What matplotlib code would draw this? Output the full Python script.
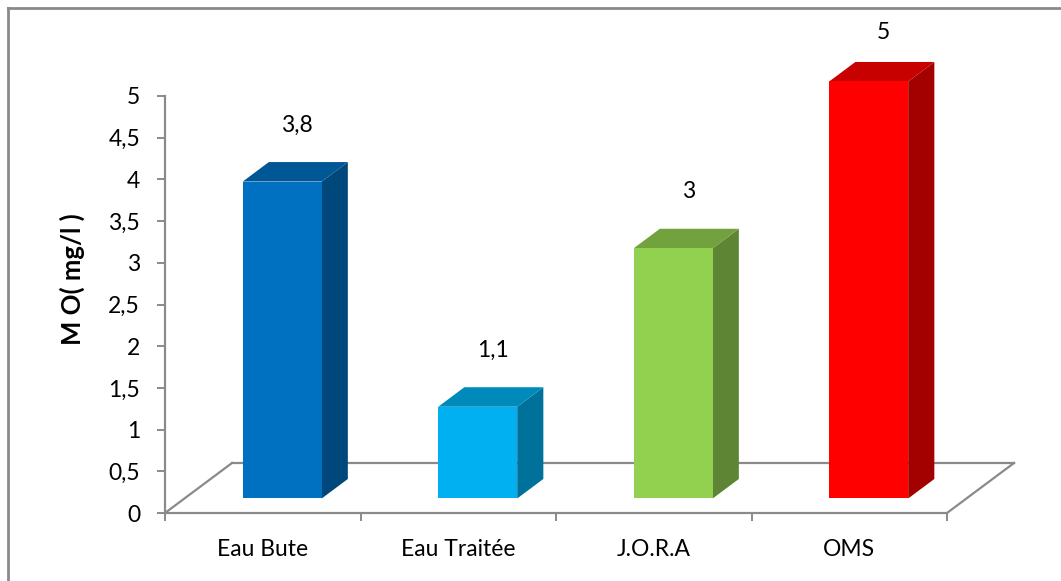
import matplotlib
matplotlib.use('Agg')
import matplotlib.pyplot as plt
from matplotlib.patches import Polygon
from matplotlib.lines import Line2D
from matplotlib.ticker import MultipleLocator, FixedLocator, FuncFormatter
from matplotlib.colors import to_rgb

# data
categories = ['Eau Bute', 'Eau Traitée', 'J.O.R.A', 'OMS']
values = [3.8, 1.1, 3.0, 5.0]
labels = ['3,8', '1,1', '3', '5']
colors = ['#0070C0', '#00B0F0', '#92D050', '#FF0000']
y_label = 'M O( mg/l )'

plt.rcParams['font.family'] = ['Lato', 'DejaVu Sans']

GRAY = '#8a8a8a'
W, H = 1061, 581
FS = 16.5

# depth of the floor (x in category units, y in value units)
FLOOR_DX, FLOOR_DY = 0.343, 0.60
BAR_FRONT, BAR_BACK = 0.29, 0.68      # bar position inside the floor depth
BAR_W = 0.404


def shade(c, f):
    r, g, b = to_rgb(c)
    return (r * f, g * f, b * f)


fig = plt.figure(figsize=(W / 100, H / 100), dpi=100)
ax = fig.add_axes([165 / W, (H - 513) / H, 782 / W, 417 / H])
ax.set_xlim(0, 4)
ax.set_ylim(0, 5)
ax.patch.set_alpha(0)

for s in ['top', 'right']:
    ax.spines[s].set_visible(False)
for s in ['left', 'bottom']:
    ax.spines[s].set_color(GRAY)
    ax.spines[s].set_linewidth(1.6)

ax.yaxis.set_major_locator(MultipleLocator(0.5))
ax.yaxis.set_major_formatter(FuncFormatter(lambda v, p: f'{v:g}'.replace('.', ',')))
ax.tick_params(axis='y', direction='out', length=6, width=1.4, color=GRAY,
               pad=12, labelsize=FS)

ax.xaxis.set_major_locator(FixedLocator(range(len(categories) + 1)))
ax.xaxis.set_major_formatter(FuncFormatter(lambda v, p: ''))
ax.xaxis.set_minor_locator(FixedLocator([i + 0.5 for i in range(len(categories))]))
ax.set_xticklabels(categories, minor=True)
ax.tick_params(axis='x', which='major', direction='out', length=6, width=1.4, color=GRAY)
ax.tick_params(axis='x', which='minor', length=0, pad=19, labelsize=FS)

# floor outline
n = len(categories)
floor = [((0, FLOOR_DX), (0, FLOOR_DY)),
         ((FLOOR_DX, n + FLOOR_DX), (FLOOR_DY, FLOOR_DY)),
         ((n, n + FLOOR_DX), (0, FLOOR_DY))]
for xs, ys in floor:
    ax.add_line(Line2D(xs, ys, color=GRAY, lw=1.6, clip_on=False, zorder=1))

# 3d columns
fx, fy = BAR_FRONT * FLOOR_DX, BAR_FRONT * FLOOR_DY
dx, dy = (BAR_BACK - BAR_FRONT) * FLOOR_DX, (BAR_BACK - BAR_FRONT) * FLOOR_DY
for i, (v, c, lab) in enumerate(zip(values, colors, labels)):
    x0 = i + 0.5 - BAR_W / 2 + fx
    x1 = x0 + BAR_W
    y0 = fy
    y1 = fy + v
    front = [(x0, y0), (x1, y0), (x1, y1), (x0, y1)]
    side = [(x1, y0), (x1 + dx, y0 + dy), (x1 + dx, y1 + dy), (x1, y1)]
    top = [(x0, y1), (x1, y1), (x1 + dx, y1 + dy), (x0 + dx, y1 + dy)]
    ax.add_patch(Polygon(side, closed=True, fc=shade(c, 0.64), ec='none',
                         clip_on=False, zorder=3))
    ax.add_patch(Polygon(top, closed=True, fc=shade(c, 0.78), ec='none',
                         clip_on=False, zorder=3))
    ax.add_patch(Polygon(front, closed=True, fc=c, ec='none',
                         clip_on=False, zorder=4))
    # keep the top label inside the chart area
    ty = min(v + 0.85, 5.76)
    ax.text(x0 + (BAR_W + dx) / 2 + 0.01, ty, lab, ha='center', va='center',
            fontsize=FS, clip_on=False)

fig.text(72 / W, 1 - 279 / H, y_label, rotation=90, ha='center', va='center',
         fontsize=18.5, fontweight='bold')

# chart border
fig.add_artist(Line2D([8 / W, 1], [1 - 8 / H, 1 - 8 / H], color=GRAY, lw=2,
                      transform=fig.transFigure))
fig.add_artist(Line2D([8 / W, 8 / W], [0, 1 - 8 / H], color=GRAY, lw=2,
                      transform=fig.transFigure))

fig.savefig('out.png', dpi=100)
